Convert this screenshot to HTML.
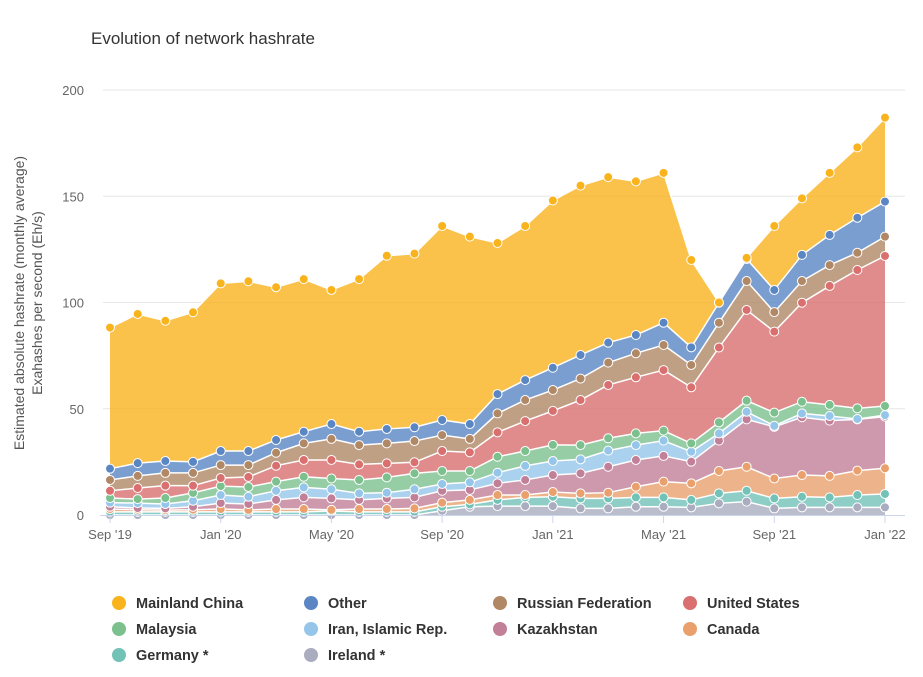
<!DOCTYPE html>
<html><head><meta charset="utf-8">
<style>
body{margin:0;background:#fff;}
svg{display:block;font-family:"Liberation Sans",sans-serif;}
</style></head>
<body>
<svg id="chart" width="923" height="677" viewBox="0 0 923 677">
<text x="91" y="44" font-size="17" fill="#333">Evolution of network hashrate</text>
<g id="grid"></g>
<g id="areas"></g>
<g id="axes"></g>
<text transform="translate(24,303) rotate(-90)" text-anchor="middle" font-size="14" fill="#555">Estimated absolute hashrate (monthly average)</text>
<text transform="translate(42,303) rotate(-90)" text-anchor="middle" font-size="14" fill="#555">Exahashes per second (Eh/s)</text>
<g id="legend"></g>
</svg>
<script>
const months = ["Sep '19","Oct '19","Nov '19","Dec '19","Jan '20","Feb '20","Mar '20","Apr '20","May '20","Jun '20","Jul '20","Aug '20","Sep '20","Oct '20","Nov '20","Dec '20","Jan '21","Feb '21","Mar '21","Apr '21","May '21","Jun '21","Jul '21","Aug '21","Sep '21","Oct '21","Nov '21","Dec '21","Jan '22"];
const xTickIdx = [0,4,8,12,16,20,24,28];
const xTickLabels = ["Sep '19","Jan '20","May '20","Sep '20","Jan '21","May '21","Sep '21","Jan '22"];
const yTicks = [0,50,100,150,200];
// bottom to top
const ireland = [0,0,0,0,0,0,0,0,0,0,0,0,2,3.9,4.2,4.2,4.2,3.1,3.1,3.9,3.9,3.6,5.5,6.3,3.1,3.6,3.6,3.6,3.6];
const germany = [1.5,1.5,1.5,1.5,1.5,1.5,1.5,1.5,1.9,1.5,1.5,1.5,1.9,1.1,2.9,4.1,4.4,4.7,4.7,4.4,4.4,3.5,4.7,5.1,4.7,5.0,4.7,5.8,6.3];
const canada = [1.3,1.0,0.8,1.0,1.3,0.9,1.3,1.3,0.5,1.3,1.3,1.6,1.9,2.1,2.3,1.1,2.2,2.4,2.7,5.0,7.4,7.8,10.5,11.3,9.4,10.2,10.1,11.5,12.1];
const kazakhstan = [1.1,0.8,0.8,1.4,2.8,2.8,4.3,5.5,5.4,4.3,5.0,5.2,5.6,4.7,5.5,7.1,8.0,9.4,12.2,12.6,12.1,10.2,14.3,22.3,24.3,27.2,26.0,24.1,24.3];
const iran = [1.9,2.3,2.1,2.8,3.8,3.4,4.3,4.7,4.3,3.1,2.7,3.8,3.2,3.6,5.0,6.6,6.6,6.6,7.6,7.0,7.2,4.7,3.4,3.6,0.5,1.8,2.2,0.2,0.7];
const malaysia = [2.2,1.9,2.8,3.7,4.2,4.6,4.3,5.0,5.1,6.3,7.2,7.5,6.1,5.3,7.5,7.0,7.6,6.7,5.8,5.5,4.7,3.9,5.2,5.2,6.2,5.5,5.2,5.0,4.3];
const unitedStates = [3.4,5.2,5.8,3.4,3.8,4.7,7.5,7.9,8.7,7.3,6.6,5.2,9.4,8.8,11.5,14.1,16.0,21.2,25.1,26.4,28.5,26.4,35.2,42.7,38.1,46.6,56.0,65.1,70.6];
const russia = [5.1,5.7,6.0,6.0,6.1,5.6,6.1,7.8,9.9,9.1,9.4,10.0,7.5,6.3,8.9,9.9,9.8,10.1,10.5,11.3,11.8,10.5,11.7,13.6,9.2,10.2,9.8,8.1,9.1];
const other = [5.3,6.0,5.6,5.2,6.6,6.6,6.0,5.5,7.0,6.3,6.8,6.5,7.1,7.0,9.1,9.4,10.5,11.1,9.4,8.6,10.5,8.3,9.4,10.4,10.4,12.3,14.2,16.5,16.5];
const china = [66.4,70.2,66.0,70.4,78.9,79.9,71.9,71.8,63.1,71.8,81.5,81.7,91.3,88.2,71.1,72.5,78.7,79.7,77.9,72.3,70.5,41.1,0.1,0.5,30.1,26.6,29.2,33.1,39.5];

const series = [
 {name:"Ireland *",key:"ireland",data:ireland,color:"#a9adbf"},
 {name:"Germany *",key:"germany",data:germany,color:"#72c2b8"},
 {name:"Canada",key:"canada",data:canada,color:"#e9a06d"},
 {name:"Kazakhstan",key:"kazakhstan",data:kazakhstan,color:"#c27f98"},
 {name:"Iran, Islamic Rep.",key:"iran",data:iran,color:"#95c6ea"},
 {name:"Malaysia",key:"malaysia",data:malaysia,color:"#7cc08e"},
 {name:"United States",key:"united-states",data:unitedStates,color:"#d96f6f"},
 {name:"Russian Federation",key:"russia",data:russia,color:"#b08866"},
 {name:"Other",key:"other",data:other,color:"#5a86c4"},
 {name:"Mainland China",key:"china",data:china,color:"#f9b31d"}
];
const NS="http://www.w3.org/2000/svg";
const X0=110,X1=885,Y0=515,Y1=90,YMAX=200;
const x=i=>X0+(X1-X0)*i/(months.length-1);
const y=v=>Y0-(Y0-Y1)*v/YMAX;
function mk(tag,attrs,parent){const e=document.createElementNS(NS,tag);for(const k in attrs)e.setAttribute(k,attrs[k]);parent.appendChild(e);return e;}
const grid=document.getElementById('grid'),axes=document.getElementById('axes'),areas=document.getElementById('areas'),legend=document.getElementById('legend');
yTicks.forEach(t=>{
 if(t>0){const l=mk('line',{x1:103,x2:905,y1:y(t),y2:y(t),stroke:'#e6e6e6','stroke-width':1},grid);
 
 }
 const tx=mk('text',{x:84,y:y(t)+5,'text-anchor':'end','font-size':13,fill:'#666'},axes);
 tx.textContent=t;
 
 
});
const ax=mk('line',{x1:100,x2:905,y1:Y0+0.5,y2:Y0+0.5,stroke:'#ccd6eb','stroke-width':1},axes);


xTickIdx.forEach((idx,k)=>{
 const tk=mk('line',{x1:x(idx),x2:x(idx),y1:Y0,y2:Y0+8,stroke:'#ccd6eb'},axes);
 
 
 const tx=mk('text',{x:x(idx),y:Y0+24,'text-anchor':'middle','font-size':13,fill:'#666'},axes);
 tx.textContent=xTickLabels[k];
 
 
});
let base=months.map(()=>0);
const tops=[];
series.forEach(s=>{
 const top=base.map((b,i)=>b+s.data[i]);
 let d='M'+top.map((v,i)=>x(i)+','+y(v)).join(' L');
 for(let i=months.length-1;i>=0;i--)d+=' L'+x(i)+','+y(base[i]);
 d+='Z';
 const p=mk('path',{d:d,fill:s.color,'fill-opacity':0.8,stroke:'none'},areas);
 
 
 tops.push({s:s,top:top});
 base=top;
});
tops.forEach(o=>{
 const ln=mk('path',{d:'M'+o.top.map((v,i)=>x(i)+','+y(v)).join(' L'),fill:'none',stroke:'#fff','stroke-width':1.5},areas);
 
 
});
tops.forEach(o=>{
 o.top.forEach((v,i)=>{
  const c=mk('circle',{cx:x(i),cy:y(v),r:4.5,fill:o.s.color,stroke:'#fff','stroke-width':1},areas);
  
  
 });
});
const order=["china","other","russia","united-states","malaysia","iran","kazakhstan","canada","germany","ireland"];
const colX=[119,311,500,690];
order.forEach((k,j)=>{
 const s=series.find(q=>q.key===k);
 const cx=colX[j%4],cy=603+26*Math.floor(j/4);
 const g=mk('g',{style:'cursor:pointer'},legend);
 
 
 mk('circle',{cx:cx,cy:cy,r:7,fill:s.color},g);
 const t=mk('text',{x:cx+17,y:cy+5,'font-size':14.5,'font-weight':'bold',fill:'#333'},g);
 t.textContent=s.name;
});
</script>
</body></html>
